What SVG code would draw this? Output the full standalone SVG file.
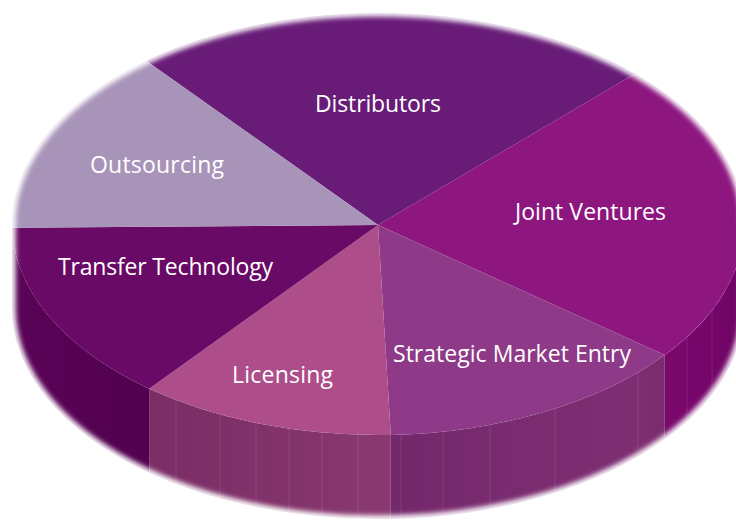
<svg xmlns="http://www.w3.org/2000/svg" width="736" height="520" viewBox="0 0 736 520">
<defs>
<style>
.lbl{font-family:"Open Sans","Liberation Sans",sans-serif;font-size:23px;fill:#ffffff;}
.facet{stroke:#ffffff;stroke-opacity:0.1;stroke-width:1;fill:none;}
</style>
<filter id="feather" x="-10%" y="-10%" width="120%" height="120%">
<feGaussianBlur stdDeviation="2.6"/>
</filter>
<linearGradient id="gJV" x1="665" y1="0" x2="744" y2="0" gradientUnits="userSpaceOnUse">
<stop offset="0" stop-color="#7c086c"/><stop offset="0.5" stop-color="#76066a"/><stop offset="1" stop-color="#6e0464"/>
</linearGradient>
<linearGradient id="gSME" x1="391" y1="0" x2="665" y2="0" gradientUnits="userSpaceOnUse">
<stop offset="0" stop-color="#73286b"/><stop offset="0.5" stop-color="#7a2c70"/><stop offset="0.9" stop-color="#7e2e72"/><stop offset="1" stop-color="#7a2c6e"/>
</linearGradient>
<linearGradient id="gLIC" x1="149" y1="0" x2="391" y2="0" gradientUnits="userSpaceOnUse">
<stop offset="0" stop-color="#7a2d66"/><stop offset="0.5" stop-color="#81326a"/><stop offset="1" stop-color="#8a3a70"/>
</linearGradient>
<linearGradient id="gTT" x1="12" y1="0" x2="149" y2="0" gradientUnits="userSpaceOnUse">
<stop offset="0" stop-color="#5a0457"/><stop offset="1" stop-color="#520050"/>
</linearGradient>
</defs>
<g id="sides">
<path id="side-jv" fill="url(#gJV)" d="M744,224 A366,211 0 0,1 664.8,355.1 L664.8,439.1 A366,211 0 0,0 744,308 Z"/>
<path id="side-sme" fill="url(#gSME)" d="M664.8,355.1 A366,211 0 0,1 390.8,434.9 L390.8,518.9 A366,211 0 0,0 664.8,439.1 Z"/>
<path id="side-lic" fill="url(#gLIC)" d="M390.8,434.9 A366,211 0 0,1 149.2,388.7 L149.2,472.7 A366,211 0 0,0 390.8,518.9 Z"/>
<path id="side-tt" fill="url(#gTT)" d="M149.2,388.7 A366,211 0 0,1 12,224 L12,308 A366,211 0 0,0 149.2,472.7 Z"/>
<path class="facet" d="M176,400 V484 M220,414.3 V498.3 M256,422.9 V506.9 M289,428.7 V512.7 M322,432.5 V516.5 M358,434.7 V518.7 M401,434.6 V518.6 M443,431.6 V515.6 M490,424.9 V508.9 M555,408.7 V492.7 M638,372.5 V456.5 M687,337.1 V421.1 M712,310.3 V394.3"/>
</g>
<g id="slices">
<g id="distributors">
<path fill="#681c78" d="M378,225 L146.2,60.7 A366,211 0 0,1 635,73.8 Z"/>
</g>
<g id="joint-ventures">
<path fill="#8d167f" d="M378,225 L635,73.8 A366,211 0 0,1 664.8,355.1 Z"/>
</g>
<g id="strategic-market-entry">
<path fill="#8e3a88" d="M378,225 L664.8,355.1 A366,211 0 0,1 390.8,434.9 Z"/>
</g>
<g id="licensing">
<path fill="#ad4d8a" d="M378,225 L390.8,434.9 A366,211 0 0,1 149.2,388.7 Z"/>
</g>
<g id="transfer-technology">
<path fill="#690a66" d="M378,225 L149.2,388.7 A366,211 0 0,1 12.05,227.7 Z"/>
</g>
<g id="outsourcing">
<path fill="#a994b9" d="M378,225 L12.05,227.7 A366,211 0 0,1 146.2,60.7 Z"/>
</g>
</g>
<path id="edge" fill="none" stroke="#ffffff" stroke-width="7" filter="url(#feather)" d="M12,224 A366,211 0 0,1 744,224 L744,308 A366,211 0 0,1 12,308 Z"/>
<g id="labels">
<text class="lbl" x="315" y="112" textLength="126">Distributors</text>
<text class="lbl" x="90" y="173" textLength="134">Outsourcing</text>
<text class="lbl" x="515" y="220" textLength="151">Joint Ventures</text>
<text class="lbl" x="58" y="275" textLength="215">Transfer Technology</text>
<text class="lbl" x="232" y="383" textLength="101">Licensing</text>
<text class="lbl" x="393" y="362" textLength="238">Strategic Market Entry</text>
</g>
</svg>
